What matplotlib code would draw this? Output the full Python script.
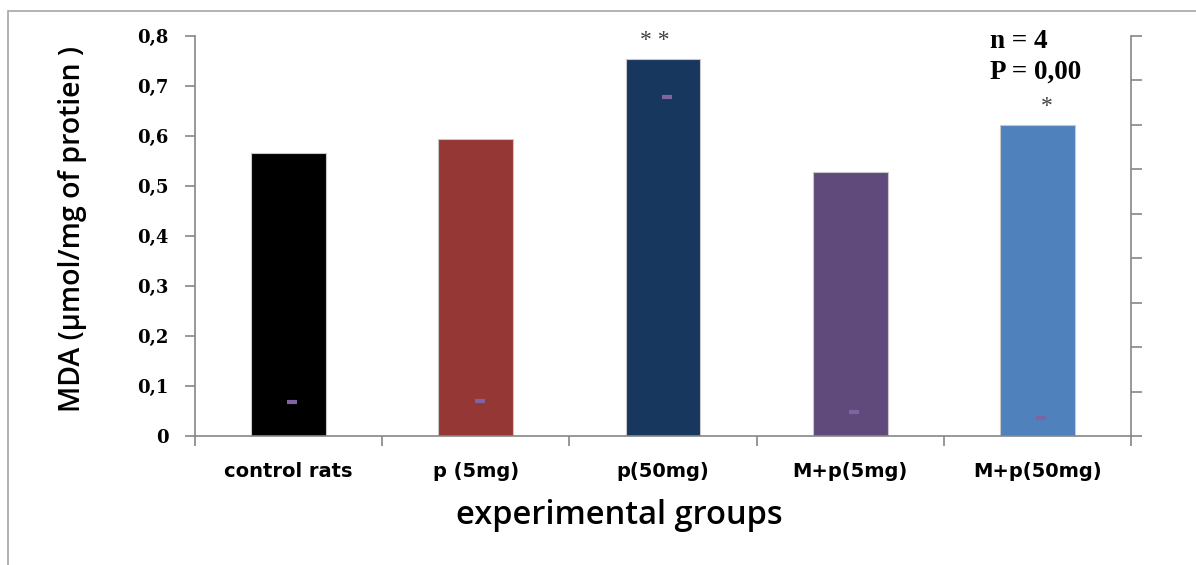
import matplotlib
matplotlib.use("Agg")
import matplotlib.pyplot as plt
from matplotlib.patches import Rectangle
import numpy as np

categories = ["control rats", "p (5mg)", "p(50mg)", "M+p(5mg)", "M+p(50mg)"]
mda_values = [0.566, 0.594, 0.754, 0.528, 0.622]
marker_values = [0.068, 0.070, 0.678, 0.048, 0.036]
bar_colors = ["#000000", "#953735", "#17375E", "#604A7B", "#4F81BD"]
significance = ["", "", "* *", "", "*"]
yticks = [0, 0.1, 0.2, 0.3, 0.4, 0.5, 0.6, 0.7, 0.8]
ytick_labels = ["0", "0,1", "0,2", "0,3", "0,4", "0,5", "0,6", "0,7", "0,8"]

W, H = 1196, 565
fig = plt.figure(figsize=(W / 100, H / 100), dpi=100)
fig.patch.set_facecolor("white")

# outer frame
fig.patches.append(Rectangle((8 / W, -0.1), 1.2, (H - 11) / H + 0.1,
                             transform=fig.transFigure, fill=False,
                             edgecolor="#a6a6a6", lw=1.2))

ax = fig.add_axes([195 / W, (H - 436) / H, (1131 - 195) / W, 400 / H])
x = np.arange(len(categories))
ax.bar(x, mda_values, width=0.4, color=bar_colors, edgecolor="#c8c8c8",
       linewidth=0.8, zorder=2)
ax.plot(x + 0.02, marker_values, linestyle="none", marker="_",
        markersize=7, markeredgewidth=3, color="#8064A2", zorder=3)

for i, (v, s) in enumerate(zip(mda_values, significance)):
    if s:
        dx = -6 if s == "* *" else 7
        ax.annotate(s, xy=(i, v), xytext=(dx, 13), textcoords="offset points",
                    ha="center", va="center", fontsize=17,
                    family="Liberation Serif", color="#404040")

ax.set_xlim(-0.5, len(categories) - 0.5)
ax.set_ylim(0, 0.8)
ax.set_yticks(yticks)
ax.set_yticklabels(ytick_labels, family="DejaVu Serif", fontweight="bold",
                   fontsize=13)
ax.set_xticks(np.arange(len(categories) + 1) - 0.5)
ax.set_xticklabels([])
ax.set_xticks(x, minor=True)
ax.set_xticklabels(categories, minor=True, family="DejaVu Sans",
                   fontweight="bold", fontsize=14)
ax.tick_params(axis="x", which="minor", length=0, pad=19)
ax.tick_params(axis="x", which="major", length=7, width=1.2, color="#868686",
               direction="out")
ax.tick_params(axis="y", length=7, width=1.2, color="#868686",
               direction="out", pad=12)
for s in ["top", "right"]:
    ax.spines[s].set_visible(False)
for s in ["left", "bottom"]:
    ax.spines[s].set_color("#868686")
    ax.spines[s].set_linewidth(1.2)

ax2 = ax.twinx()
ax2.set_ylim(0, 9)
ax2.set_yticks(np.arange(0, 10))
ax2.set_yticklabels([])
ax2.tick_params(axis="y", length=8, width=1.2, color="#868686", direction="out")
for s in ["top", "left", "bottom"]:
    ax2.spines[s].set_visible(False)
ax2.spines["right"].set_color("#868686")
ax2.spines["right"].set_linewidth(1.2)

ax.text(0.849, 0.985, "n = 4", transform=ax.transAxes, ha="left", va="center",
        family="Liberation Serif", fontweight="bold", fontsize=19.5)
ax.text(0.849, 0.91, "P = 0,00", transform=ax.transAxes, ha="left", va="center",
        family="Liberation Serif", fontweight="bold", fontsize=19.5)

fig.text(619 / W, 1 - 515 / H, "experimental groups", ha="center", va="center",
         family="Open Sans", fontweight="semibold", fontsize=23.5)
fig.text(73 / W, 1 - 229 / H, "MDA (μmol/mg of protien )", ha="center",
         va="center", rotation=90, family="Open Sans", fontweight="semibold",
         fontsize=20.5)

fig.savefig("out.png", dpi=100, facecolor="white")
